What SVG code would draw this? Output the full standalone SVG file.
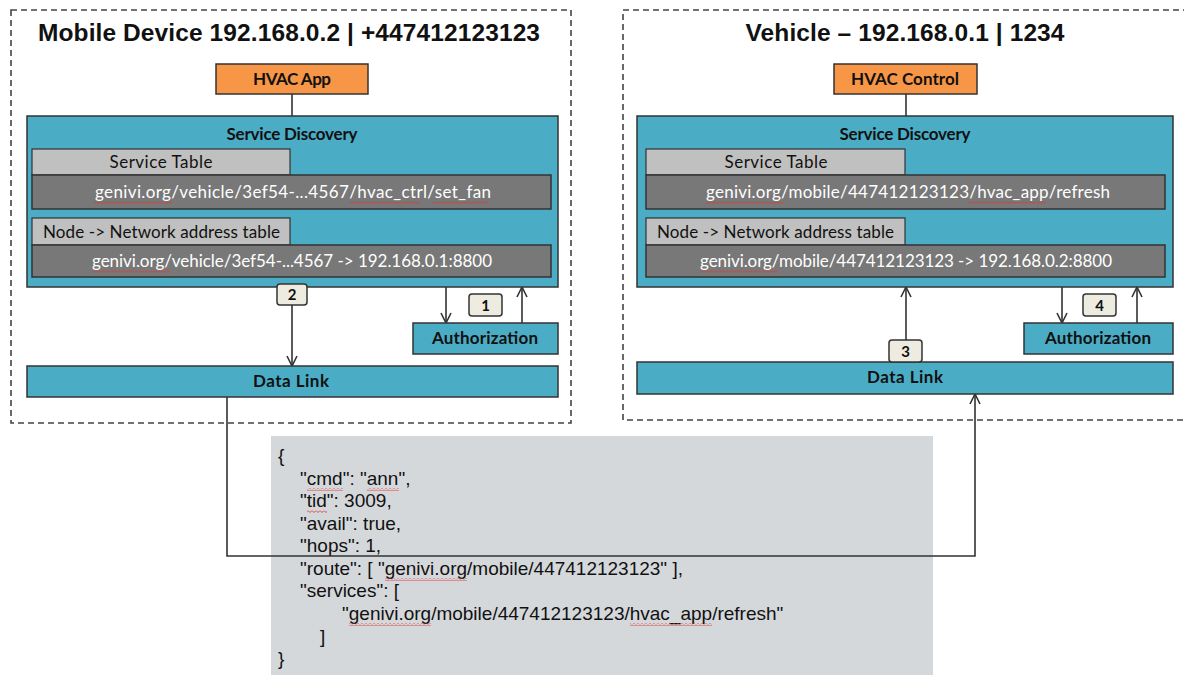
<svg xmlns="http://www.w3.org/2000/svg" width="1184" height="675" viewBox="0 0 1184 675">
<style>
.frame{fill:none;stroke:#444;stroke-width:1.6;stroke-dasharray:6 4}
.title{font-family:"Liberation Sans",Arial,sans-serif;font-weight:bold;font-size:24.5px;fill:#111;text-anchor:middle}
.orange{fill:#F79646;stroke:#333;stroke-width:1.5}
.teal{fill:#4BACC6;stroke:#333;stroke-width:1.5}
.tab{fill:#C0C0C0;stroke:#333;stroke-width:1.2}
.row{fill:#787878;stroke:#333;stroke-width:1.5}
.lbl{font-family:Lato,"Open Sans",sans-serif;font-weight:bold;font-size:17px;fill:#111;text-anchor:middle}
.tabt{font-family:Lato,"Open Sans",sans-serif;font-size:17px;fill:#111}
.rowt{font-family:Lato,"Open Sans",sans-serif;font-size:17px;fill:#fff;text-anchor:middle}
.num{fill:#EEECE1;stroke:#333;stroke-width:1.5}
.numt{font-family:Lato,"Open Sans",sans-serif;font-weight:bold;font-size:15px;fill:#111;text-anchor:middle}
.wire{fill:none;stroke:#333;stroke-width:1.6}
.json{fill:#D5D8DB}
.jt{font-family:"Liberation Sans",Arial,sans-serif;font-size:19px;fill:#111}
.sq{fill:url(#squig)}
</style>
<defs>
<marker id="arr" viewBox="0 0 12 12" refX="11" refY="6" markerWidth="12" markerHeight="12" markerUnits="userSpaceOnUse" orient="auto">
<path d="M1,1 L11,6 L1,11" fill="none" stroke="#333" stroke-width="1.6"/>
</marker>
<pattern id="squig" patternUnits="userSpaceOnUse" width="4" height="3">
<path d="M0,0.5 L2,2.5 L4,0.5" fill="none" stroke="#E03434" stroke-width="0.9"/>
</pattern>
</defs>

<rect class="frame" x="11" y="10" width="560" height="413"/>
<rect class="frame" x="623" y="10" width="600" height="410"/>

<g id="payload">
<rect class="json" x="271" y="436" width="662" height="239"/>
<text class="jt" x="278" y="462">{</text>
<text class="jt" x="300" y="485">"cmd": "ann",</text>
<text class="jt" x="300" y="507">"tid": 3009,</text>
<text class="jt" x="300" y="530">"avail": true,</text>
<text class="jt" x="300" y="552">"hops": 1,</text>
<text class="jt" x="300" y="575">"route": [ "genivi.org/mobile/447412123123" ],</text>
<text class="jt" x="300" y="597">"services": [</text>
<text class="jt" x="342" y="620">"genivi.org/mobile/447412123123/hvac_app/refresh"</text>
<text class="jt" x="320" y="643">]</text>
<text class="jt" x="278" y="665">}</text>
<rect class="sq" x="307" y="488" width="36" height="3"/>
<rect class="sq" x="367" y="488" width="32" height="3"/>
<rect class="sq" x="307" y="510" width="20" height="3"/>
<rect class="sq" x="385" y="578" width="82" height="3"/>
<rect class="sq" x="349" y="623" width="82" height="3"/>
<rect class="sq" x="630" y="623" width="82" height="3"/>
</g>

<g id="mobile-title"><text class="title" x="289" y="41" textLength="502">Mobile Device 192.168.0.2 | +447412123123</text></g>
<g id="vehicle-title"><text class="title" x="905" y="41" textLength="319">Vehicle – 192.168.0.1 | 1234</text></g>

<g id="connectors">
<path class="wire" d="M292,94 V116"/>
<path class="wire" d="M906,94 V116"/>
<path class="wire" d="M292,287 V366" marker-end="url(#arr)"/>
<path class="wire" d="M446,287 V323" marker-end="url(#arr)"/>
<path class="wire" d="M522,323 V287" marker-end="url(#arr)"/>
<path class="wire" d="M906,362 V287" marker-end="url(#arr)"/>
<path class="wire" d="M1062,287 V323" marker-end="url(#arr)"/>
<path class="wire" d="M1137,323 V287" marker-end="url(#arr)"/>
<path class="wire" d="M227,397 V556 H975 V394" marker-end="url(#arr)"/>
</g>

<g id="hvac-app"><rect class="orange" x="216" y="64" width="152" height="30"/><text class="lbl" x="292" y="85" textLength="78">HVAC App</text></g>
<g id="hvac-control"><rect class="orange" x="834" y="64" width="143" height="30"/><text class="lbl" x="905" y="85" textLength="108">HVAC Control</text></g>

<g id="mobile-sd">
<rect class="teal" x="27" y="116" width="531" height="171"/>
<text class="lbl" x="292" y="140" textLength="131">Service Discovery</text>
<rect class="tab" x="32" y="149" width="258" height="26"/>
<text class="tabt" x="161" y="168" text-anchor="middle" textLength="103">Service Table</text>
<rect class="row" x="32" y="175" width="519" height="34"/>
<text class="rowt" x="293" y="198" textLength="396">genivi.org/vehicle/3ef54-...4567/hvac_ctrl/set_fan</text>
<rect class="sq" x="94" y="201" width="78" height="3"/>
<rect class="sq" x="350" y="201" width="70" height="3"/>
<rect class="sq" x="433" y="201" width="56" height="3"/>
<rect class="tab" x="32" y="218" width="258" height="27"/>
<text class="tabt" x="43" y="238" textLength="237">Node -&gt; Network address table</text>
<rect class="row" x="32" y="245" width="519" height="32"/>
<text class="rowt" x="292" y="267" textLength="400">genivi.org/vehicle/3ef54-...4567 -&gt; 192.168.0.1:8800</text>
<rect class="sq" x="92" y="270" width="78" height="3"/>
</g>

<g id="vehicle-sd">
<rect class="teal" x="637" y="116" width="536" height="171"/>
<text class="lbl" x="905" y="140" textLength="131">Service Discovery</text>
<rect class="tab" x="646" y="149" width="259" height="26"/>
<text class="tabt" x="776" y="168" text-anchor="middle" textLength="103">Service Table</text>
<rect class="row" x="646" y="175" width="519" height="34"/>
<text class="rowt" x="908" y="198" textLength="404">genivi.org/mobile/447412123123/hvac_app/refresh</text>
<rect class="sq" x="706" y="201" width="77" height="3"/>
<rect class="sq" x="969" y="201" width="77" height="3"/>
<rect class="tab" x="646" y="218" width="259" height="27"/>
<text class="tabt" x="657" y="238" textLength="237">Node -&gt; Network address table</text>
<rect class="row" x="646" y="245" width="519" height="32"/>
<text class="rowt" x="906" y="267" textLength="412">genivi.org/mobile/447412123123 -&gt; 192.168.0.2:8800</text>
<rect class="sq" x="700" y="270" width="78" height="3"/>
</g>

<g id="mobile-auth"><rect class="teal" x="413" y="323" width="145" height="31"/><text class="lbl" x="485" y="344" textLength="106">Authorization</text></g>
<g id="vehicle-auth"><rect class="teal" x="1024" y="323" width="149" height="31"/><text class="lbl" x="1098" y="344" textLength="106">Authorization</text></g>
<g id="mobile-datalink"><rect class="teal" x="27" y="366" width="531" height="31"/><text class="lbl" x="291" y="387" textLength="76">Data Link</text></g>
<g id="vehicle-datalink"><rect class="teal" x="637" y="362" width="536" height="32"/><text class="lbl" x="905" y="383" textLength="76">Data Link</text></g>

<g id="step-1"><rect class="num" x="469" y="294" width="33" height="22" rx="3"/><text class="numt" x="485.5" y="311">1</text></g>
<g id="step-2"><rect class="num" x="277" y="284" width="30" height="21" rx="3"/><text class="numt" x="292" y="300">2</text></g>
<g id="step-3"><rect class="num" x="889" y="340" width="33" height="22" rx="3"/><text class="numt" x="905.5" y="357">3</text></g>
<g id="step-4"><rect class="num" x="1083" y="294" width="33" height="22" rx="3"/><text class="numt" x="1099.5" y="311">4</text></g>
</svg>
